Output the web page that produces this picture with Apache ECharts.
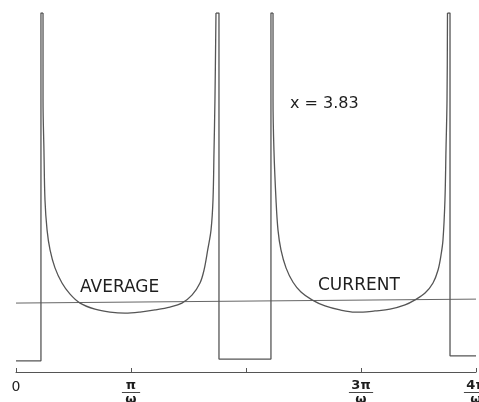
<!DOCTYPE html>
<html>
<head>
<meta charset="utf-8">
<title>Current waveform, x = 3.83</title>
<script src="https://cdn.jsdelivr.net/npm/echarts@6/dist/echarts.min.js"></script>
<style>
  html, body { margin: 0; padding: 0; background: #ffffff; }
  #chart { width: 479px; height: 402px; }
</style>
</head>
<body>
<div id="chart"></div>
<script>
// Time is in units of pi/omega, current in arbitrary units (100 = top of plot).

// Switching instants and the "off" current level between conduction pulses
const edgeTime = [0, 0.217, 1.765, 2.217, 3.774, 4.0];
const offCurrent = [3.1, 3.6, 4.5];
const peakCurrent = 100;

// Conduction pulse 1: decaying from the spike, through the minimum, back up to the spike
const cycle1Time = [0.235, 0.235, 0.243, 0.252, 0.270, 0.296, 0.339, 0.400,
  0.470, 0.557, 0.687, 0.817, 0.948, 1.078, 1.209, 1.339, 1.443, 1.530,
  1.600, 1.635, 1.667, 1.696, 1.713, 1.722, 1.730, 1.739];
const cycle1Current = [100, 75.8, 61.8, 47.9, 39.6, 34.0, 29.0, 24.8,
  21.7, 19.2, 17.5, 16.7, 16.4, 16.7, 17.3, 18.1, 19.2, 21.4,
  24.8, 28.4, 34.0, 39.6, 47.9, 61.8, 75.8, 100];

// Conduction pulse 2
const cycle2Time = [2.235, 2.235, 2.243, 2.261, 2.278, 2.304, 2.348, 2.409,
  2.478, 2.574, 2.687, 2.817, 2.948, 3.017, 3.122, 3.252, 3.383, 3.470,
  3.557, 3.626, 3.670, 3.696, 3.713, 3.730, 3.739, 3.748, 3.752];
const cycle2Current = [100, 75.8, 61.8, 47.9, 39.6, 34.0, 29.0, 25.0,
  22.3, 20.1, 18.4, 17.3, 16.7, 16.7, 17.0, 17.5, 18.7, 20.1,
  22.0, 24.8, 28.4, 32.6, 36.8, 47.9, 61.8, 75.8, 100];

const averageTime = [0, 4.0];
const averageCurrent = [19.2, 20.3];

// Tick labels at 0, pi/w, 2pi/w (unlabelled), 3pi/w, 4pi/w
const tickNumerators = ['0', 'π', '', '3π', '4π'];
const tickDenominator = 'ω';

function pairs(xs, ys) {
  return xs.map(function (x, i) { return [x, ys[i]]; });
}

// Square edges: off level, vertical rise to the spike, vertical fall back down
const edgeData = [
  [edgeTime[0], offCurrent[0]], [edgeTime[1], offCurrent[0]],
  [edgeTime[1], peakCurrent], [cycle1Time[0], peakCurrent], null,
  [cycle1Time[cycle1Time.length - 1], peakCurrent], [edgeTime[2], peakCurrent],
  [edgeTime[2], offCurrent[1]], [edgeTime[3], offCurrent[1]],
  [edgeTime[3], peakCurrent], [cycle2Time[0], peakCurrent], null,
  [cycle2Time[cycle2Time.length - 1], peakCurrent], [edgeTime[4], peakCurrent],
  [edgeTime[4], offCurrent[2]], [edgeTime[5], offCurrent[2]]
].map(function (p) { return p === null ? ['-', '-'] : p; });

const ink = '#1e1e1e';
const traceColor = '#555555';
const font = 'DejaVu Sans';

function traceSeries(name, data, smooth) {
  return {
    name: name,
    type: 'line',
    data: data,
    showSymbol: false,
    symbol: 'none',
    smooth: smooth,
    connectNulls: false,
    lineStyle: { color: traceColor, width: 1.3 },
    z: 3
  };
}

const chart = echarts.init(document.getElementById('chart'), null, { renderer: 'canvas' });

chart.setOption({
  animation: false,
  backgroundColor: '#ffffff',
  grid: { left: 16, right: 3, top: 13, bottom: 30, containLabel: false, outerBoundsMode: 'none' },
  xAxis: {
    type: 'value',
    min: 0,
    max: 4,
    interval: 1,
    name: '{a|TIME t}{s|2}',
    nameLocation: 'middle',
    nameGap: 13,
    nameTextStyle: {
      rich: {
        a: { fontFamily: font, fontSize: 14, color: ink, verticalAlign: 'top' },
        s: { fontFamily: font, fontSize: 10, color: ink, verticalAlign: 'bottom', padding: [8, 0, 0, 0] }
      }
    },
    axisLine: { show: true, lineStyle: { color: '#555', width: 1 } },
    axisTick: { show: true, inside: true, length: 4, lineStyle: { color: '#555', width: 1 } },
    splitLine: { show: false },
    axisLabel: {
      margin: 8,
      showMinLabel: true,
      showMaxLabel: true,
      hideOverlap: false,
      formatter: function (v) {
        const num = tickNumerators[Math.round(v)];
        if (num === '') return '';
        if (num === '0') return '{z|0}';
        const bar = num.length > 1 ? '{b|────}' : '{b|───}';
        return '{n|' + num + '}\n' + bar + '\n{d|' + tickDenominator + '}';
      },
      rich: {
        z: { fontFamily: font, fontSize: 14, color: ink, lineHeight: 15 },
        n: { fontFamily: font, fontSize: 13, color: ink, lineHeight: 11, fontWeight: 'bold' },
        b: { fontFamily: 'DejaVu Sans Mono', fontSize: 10, color: ink, lineHeight: 4, fontWeight: 'bold' },
        d: { fontFamily: font, fontSize: 13, color: ink, lineHeight: 10, fontWeight: 'bold' }
      }
    }
  },
  yAxis: {
    type: 'value',
    min: 0,
    max: 100,
    show: false
  },
  series: [
    traceSeries('CURRENT', edgeData, false),
    traceSeries('CURRENT', pairs(cycle1Time, cycle1Current), 0.35),
    traceSeries('CURRENT', pairs(cycle2Time, cycle2Current), 0.35),
    {
      name: 'AVERAGE',
      type: 'line',
      data: pairs(averageTime, averageCurrent),
      showSymbol: false,
      symbol: 'none',
      lineStyle: { color: '#666666', width: 1 },
      z: 2
    }
  ],
  graphic: [
    {
      type: 'text', left: 290, top: 96,
      style: { text: 'x = 3.83', fontFamily: font, fontSize: 16, fill: ink }
    },
    {
      type: 'text', left: 80, top: 279,
      style: { text: 'AVERAGE', fontFamily: font, fontSize: 17, fill: ink }
    },
    {
      type: 'text', left: 318, top: 277,
      style: { text: 'CURRENT', fontFamily: font, fontSize: 17, fill: ink }
    }
  ]
});
</script>
</body>
</html>
